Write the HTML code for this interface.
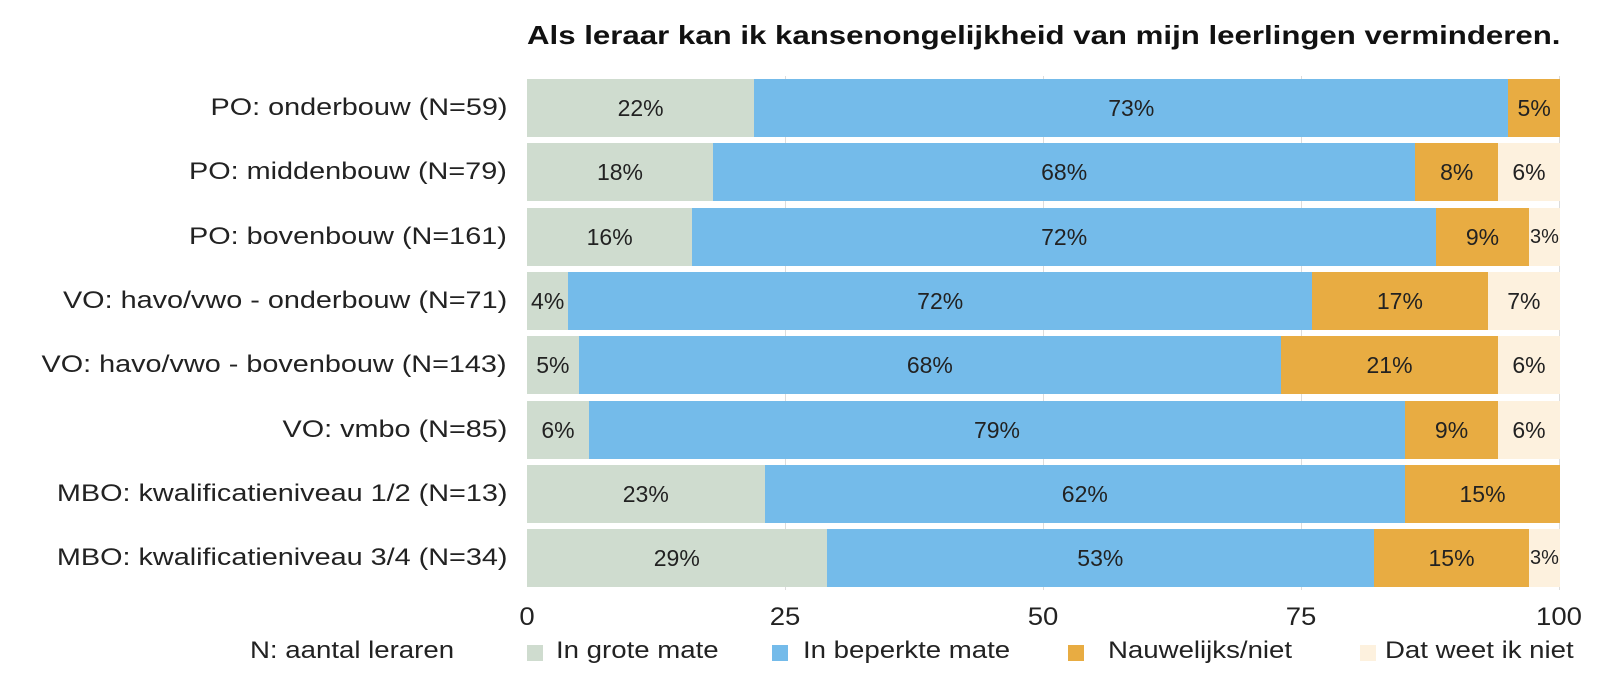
<!DOCTYPE html>
<html><head><meta charset="utf-8"><style>
body{margin:0;width:1600px;height:691px;background:#fff;font-family:"Liberation Sans","DejaVu Sans",sans-serif;color:#222;position:relative;overflow:hidden}
.a{position:absolute}
.lab{position:absolute;right:1093px;font-size:24px;text-align:right;white-space:nowrap;line-height:58px;transform:scaleX(1.2);transform-origin:right center}
.seg{position:absolute;height:58px;line-height:58px;text-align:center;font-size:23px;overflow:visible;white-space:nowrap}
.g{position:absolute;top:76px;height:514px;width:1px;background:#dcdcdc}
.t{position:absolute;top:603px;font-size:25px;transform:translateX(-50%) scaleX(1.1)}
.sq{position:absolute;top:645px;width:16px;height:16px}
.lt{position:absolute;top:637px;font-size:24px;white-space:nowrap;transform:scaleX(1.15);transform-origin:left center}
</style></head><body>
<div class="a" style="left:527px;top:20px;font-size:26px;font-weight:bold;white-space:nowrap;color:#111;transform:scaleX(1.2);transform-origin:left center">Als leraar kan ik kansenongelijkheid van mijn leerlingen verminderen.</div>
<div class="g" style="left:785px"></div><div class="g" style="left:1043px"></div><div class="g" style="left:1301px"></div><div class="g" style="left:1559px"></div>
<div id="c"></div>
<div class="t" style="left:527px">0</div><div class="t" style="left:785px">25</div><div class="t" style="left:1043px">50</div><div class="t" style="left:1301px">75</div><div class="t" style="left:1559px">100</div>
<div class="lt" style="left:250px">N: aantal leraren</div>
<div class="sq" style="left:527px;background:#cfdccf"></div><div class="lt" style="left:556px">In grote mate</div>
<div class="sq" style="left:772px;background:#74bbea"></div><div class="lt" style="left:803px">In beperkte mate</div>
<div class="sq" style="left:1068px;background:#e8ac42"></div><div class="lt" style="left:1108px">Nauwelijks/niet</div>
<div class="sq" style="left:1360px;background:#fdf1de"></div><div class="lt" style="left:1385px">Dat weet ik niet</div>
<script>
var L=["PO: onderbouw (N=59)","PO: middenbouw (N=79)","PO: bovenbouw (N=161)","VO: havo/vwo - onderbouw (N=71)","VO: havo/vwo - bovenbouw (N=143)","VO: vmbo (N=85)","MBO: kwalificatieniveau 1/2 (N=13)","MBO: kwalificatieniveau 3/4 (N=34)"];
var D=[[22,73,5,0],[18,68,8,6],[16,72,9,3],[4,72,17,7],[5,68,21,6],[6,79,9,6],[23,62,15,0],[29,53,15,3]];
var C=["#cfdccf","#74bbea","#e8ac42","#fdf1de"];
var h="",s=10.33;
for(var i=0;i<8;i++){var y=79+i*64.3;h+='<div class="lab" style="top:'+y+'px">'+L[i]+'</div>';
var x=527;for(var j=0;j<4;j++){var v=D[i][j];if(!v)continue;var w=v*s;if(x+w>1560)w=1560-x;
var fs=v<=3?'font-size:20px;':'';
h+='<div class="seg" style="left:'+x+'px;top:'+y+'px;width:'+w+'px;background:'+C[j]+';'+fs+'">'+v+'%</div>';x+=w;}}
document.getElementById("c").innerHTML=h;
</script>
</body></html>
